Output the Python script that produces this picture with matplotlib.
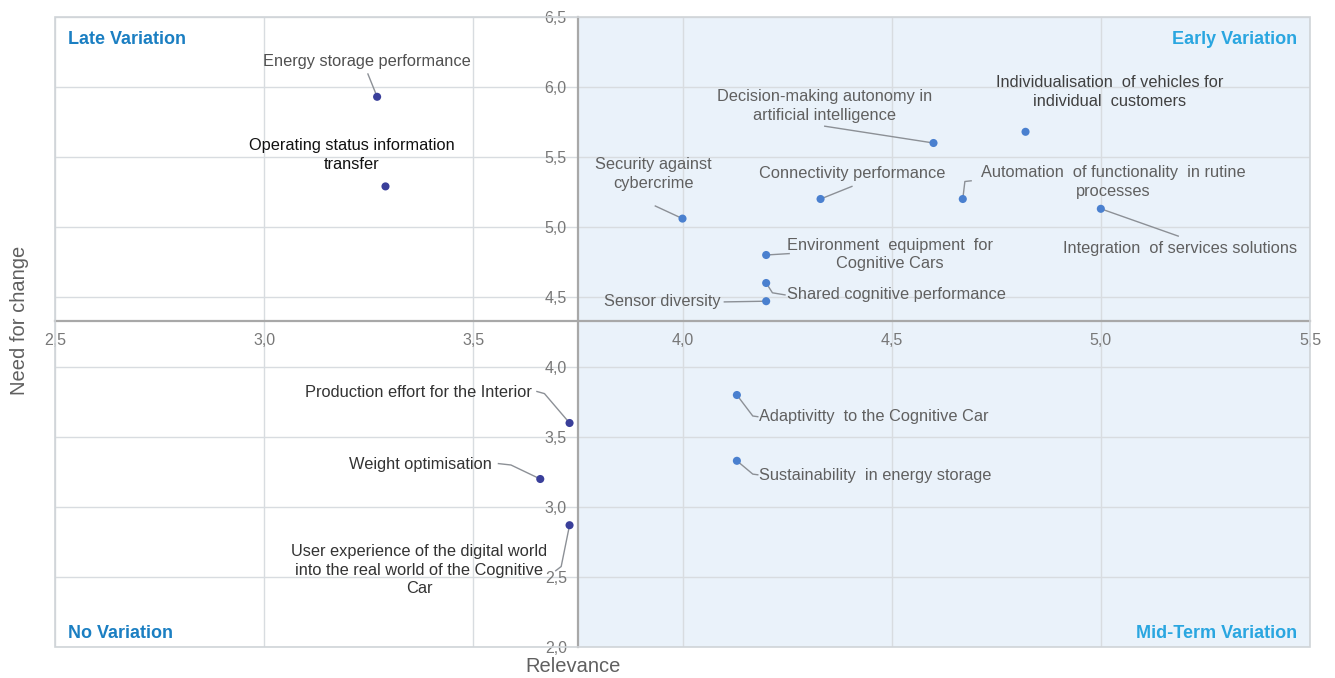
import matplotlib
matplotlib.use("Agg")
import matplotlib.pyplot as plt
from matplotlib.patches import Rectangle

plt.rcParams["font.family"] = ["Liberation Sans", "DejaVu Sans"]

# ---- data -------------------------------------------------------------
names = [
    "Energy storage performance",
    "Operating status information\ntransfer",
    "Decision-making autonomy in\nartificial intelligence",
    "Individualisation  of vehicles for\nindividual  customers",
    "Security against\ncybercrime",
    "Connectivity performance",
    "Automation  of functionality  in rutine\nprocesses",
    "Integration  of services solutions",
    "Environment  equipment  for\nCognitive Cars",
    "Shared cognitive performance",
    "Sensor diversity",
    "Production effort for the Interior",
    "Weight optimisation",
    "User experience of the digital world\ninto the real world of the Cognitive\nCar",
    "Adaptivitty  to the Cognitive Car",
    "Sustainability  in energy storage",
]
relevance = [3.27, 3.29, 4.60, 4.82, 4.00, 4.33, 4.67, 5.00,
             4.20, 4.20, 4.20, 3.73, 3.66, 3.73, 4.13, 4.13]
need_for_change = [5.93, 5.29, 5.60, 5.68, 5.06, 5.20, 5.20, 5.13,
                   4.80, 4.60, 4.47, 3.60, 3.20, 2.87, 3.80, 3.33]

x_ticks = [2.5, 3.0, 3.5, 4.0, 4.5, 5.0, 5.5]
x_tick_labels = ["2,5", "3,0", "3,5", "4,0", "4,5", "5,0", "5,5"]
y_ticks = [2.0, 2.5, 3.0, 3.5, 4.0, 4.5, 5.0, 5.5, 6.0, 6.5]
y_tick_labels = ["2,0", "2,5", "3,0", "3,5", "4,0", "4,5", "5,0", "5,5", "6,0", "6,5"]

relevance_mid = 3.75
change_mid = 4.33

quadrants = ["Late Variation", "Early Variation", "No Variation", "Mid-Term Variation"]

# ---- label layout: text anchor, alignment, colour, leader line ---------
# leader: list of intermediate points from text side to the marker
layout = [
    dict(xy=(3.245, 6.18), ha="center", color="#505050", lead=[(3.248, 6.093)]),
    dict(xy=(3.21, 5.515), ha="center", color="#111111", lead=None),
    dict(xy=(4.34, 5.865), ha="center", color="#606060", lead=[(4.34, 5.72)]),
    dict(xy=(5.02, 5.965), ha="center", color="#404040", lead=None),
    dict(xy=(3.93, 5.38), ha="center", color="#606060", lead=[(3.935, 5.15)]),
    dict(xy=(4.405, 5.38), ha="center", color="#606060", lead=[(4.405, 5.29)]),
    dict(xy=(5.03, 5.32), ha="center", color="#606060", lead=[(4.69, 5.33), (4.675, 5.325)]),
    dict(xy=(5.19, 4.845), ha="center", color="#606060", lead=[(5.185, 4.935)]),
    dict(xy=(4.495, 4.805), ha="center", color="#606060", lead=[(4.255, 4.81)]),
    dict(xy=(4.25, 4.515), ha="left", color="#606060", lead=[(4.245, 4.515), (4.215, 4.53)]),
    dict(xy=(4.09, 4.465), ha="right", color="#606060", lead=[(4.10, 4.465)]),
    dict(xy=(3.64, 3.82), ha="right", color="#333333", lead=[(3.652, 3.825), (3.67, 3.81)]),
    dict(xy=(3.545, 3.30), ha="right", color="#333333", lead=[(3.56, 3.31), (3.59, 3.30)]),
    dict(xy=(3.37, 2.55), ha="center", color="#333333", lead=[(3.697, 2.545), (3.71, 2.575)]),
    dict(xy=(4.183, 3.643), ha="left", color="#606060", lead=[(4.18, 3.645), (4.168, 3.65)]),
    dict(xy=(4.183, 3.228), ha="left", color="#606060", lead=[(4.18, 3.23), (4.168, 3.235)]),
]

dark_dot = "#3A3F9A"
light_dot = "#4A80CF"

# ---- figure -------------------------------------------------------------
fig = plt.figure(figsize=(13.35, 6.78), dpi=100)
ax = fig.add_axes([55 / 1335, 1 - 647 / 678, (1310 - 55) / 1335, (647 - 17) / 678])

ax.set_xlim(x_ticks[0], x_ticks[-1])
ax.set_ylim(y_ticks[0], y_ticks[-1])

# shaded high-relevance half
ax.axvspan(relevance_mid, x_ticks[-1], color="#EAF2FA", zorder=0, lw=0)

# grid
ax.set_xticks(x_ticks)
ax.set_xticklabels(x_tick_labels)
ax.set_yticks(y_ticks)
ax.set_yticklabels(y_tick_labels)
ax.grid(True, color="#D8DCE0", linewidth=1.0, zorder=1)
ax.set_axisbelow(True)

# crossing axes
for side in ("top", "right"):
    ax.spines[side].set_visible(False)
ax.spines["left"].set_position(("data", relevance_mid))
ax.spines["bottom"].set_position(("data", change_mid))
for side in ("left", "bottom"):
    ax.spines[side].set_color("#A8A8A8")
    ax.spines[side].set_linewidth(1.6)
    ax.spines[side].set_zorder(2)
ax.tick_params(axis="x", length=0, pad=9, labelsize=11.5, labelcolor="#787878")
ax.tick_params(axis="y", length=0, pad=8, labelsize=11.5, labelcolor="#787878")

# outer frame
ax.add_patch(Rectangle((0, 0), 1, 1, transform=ax.transAxes, fill=False,
                       edgecolor="#D0D4D8", linewidth=1.2, zorder=3, clip_on=False))

# markers
colors = [dark_dot if r < relevance_mid else light_dot for r in relevance]
ax.scatter(relevance, need_for_change, s=34, c=colors, zorder=5, edgecolors="none")

# labels + leader lines
for name, r, n, lay in zip(names, relevance, need_for_change, layout):
    ax.text(lay["xy"][0], lay["xy"][1], name, ha=lay["ha"], va="center",
            fontsize=11.8, color=lay["color"], linespacing=1.3, zorder=6)
    if lay["lead"]:
        xs = [p[0] for p in lay["lead"]] + [r]
        ys = [p[1] for p in lay["lead"]] + [n]
        ax.plot(xs, ys, color="#8C9096", linewidth=1.0, zorder=4)

# quadrant titles
ax.text(0.01, 0.965, quadrants[0], transform=ax.transAxes, ha="left", va="center",
        fontsize=13, fontweight="bold", color="#1B7FC2")
ax.text(0.99, 0.965, quadrants[1], transform=ax.transAxes, ha="right", va="center",
        fontsize=13, fontweight="bold", color="#2AA6E0")
ax.text(0.01, 0.022, quadrants[2], transform=ax.transAxes, ha="left", va="center",
        fontsize=13, fontweight="bold", color="#1B7FC2")
ax.text(0.99, 0.022, quadrants[3], transform=ax.transAxes, ha="right", va="center",
        fontsize=13, fontweight="bold", color="#2AA6E0")

# axis titles
fig.text(20 / 1335, 1 - 320 / 678, "Need for change", rotation=90, ha="center",
         va="center", fontsize=14.5, color="#606060")
fig.text(573 / 1335, 1 - 666 / 678, "Relevance", ha="center", va="center",
         fontsize=14.5, color="#606060")

fig.savefig("out.png", dpi=100, facecolor="white")
